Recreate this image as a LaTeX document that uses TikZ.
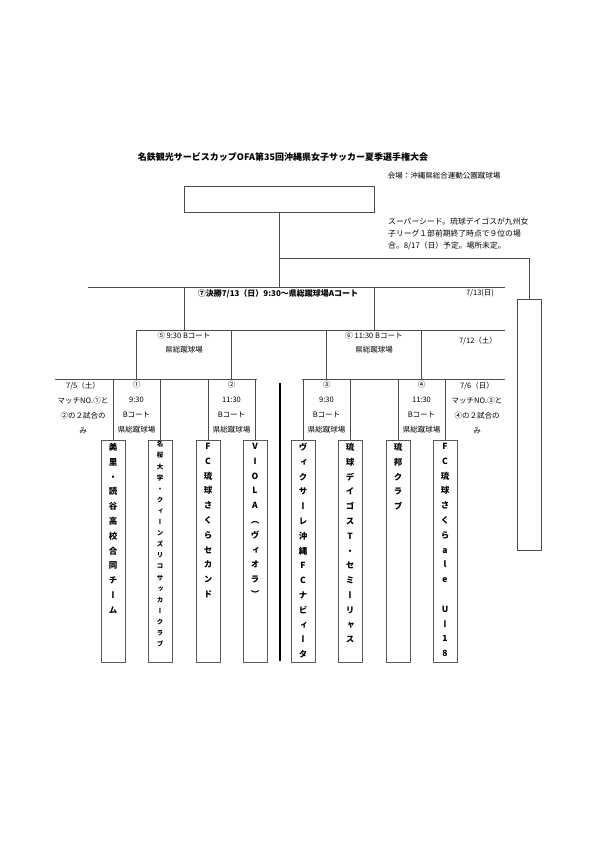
\documentclass[tikz,border=0pt]{standalone}
\usepackage{fontspec}
\usepackage{tikz}
\usetikzlibrary{positioning}
\newfontfamily\jpfont{Noto Sans CJK JP}
\newfontfamily\jpvfont[RawFeature=+vert]{Noto Sans CJK JP}
% one character per line, for the vertical team names
\def\tate#1{\tatefirst#1\relax}
\def\tatefirst#1{#1\tatenext}
\def\tatenext#1{\ifx\relax#1\else\\#1\expandafter\tatenext\fi}
\tikzset{
  brline/.style={draw=black!70,line width=0.8pt},
  divline/.style={draw=black,line width=1.5pt},
  champbox/.style={draw=black!70,line width=0.8pt,minimum width=190pt,minimum height=26pt,inner sep=0pt},
  seedbox/.style={draw=black!70,line width=0.8pt,minimum width=24pt,minimum height=251pt,inner sep=0pt},
  teambox/.style={draw=black!65,line width=0.8pt,minimum width=24pt,minimum height=222pt,inner sep=0pt,anchor=north},
  tatename/.style={font=\jpvfont\bfseries\fontsize{8.5}{14.8}\selectfont,align=center,inner sep=0pt,text width=14pt},
  tatesmall/.style={tatename,font=\jpvfont\bfseries\fontsize{6.5}{11.1}\selectfont},
  titletext/.style={font=\jpfont\bfseries\fontsize{9}{11}\selectfont,inner sep=0pt},
  headtext/.style={font=\jpfont\bfseries\fontsize{8}{10}\selectfont,inner sep=0pt},
  smalltext/.style={font=\jpfont\fontsize{7.5}{15}\selectfont,inner sep=0pt,align=center},
  semitext/.style={smalltext,font=\jpfont\fontsize{7.5}{14}\selectfont},
  notetext/.style={font=\jpfont\fontsize{7.8}{12}\selectfont,inner sep=0pt,align=left},
}
\begin{document}
\begin{tikzpicture}[x=1pt,y=-1pt]
  \useasboundingbox[fill=white] (0,0) rectangle (595,841);
  % title and venue
  \node[titletext] (title) at (283,157) {名鉄観光サービスカップOFA第35回沖縄県女子サッカー夏季選手権大会};
  \node[smalltext] (venue) at (444,176) {会場：沖縄県総合運動公園蹴球場};
  % champion and super seed
  \node[champbox] (champ) at (279,199.5) {};
  \node[notetext,anchor=north west] (seednote) at (388,218) {スーパーシード。琉球デイゴスが九州女\\子リーグ１部前期終了時点で９位の場\\合。8/17（日）予定。場所未定。};
  \node[seedbox] (seed) at (529,424.5) {};
  % teams
  \node[teambox] (t1) at (113,440) {};
  \node[teambox] (t2) at (160,440) {};
  \node[teambox] (t3) at (208,440) {};
  \node[teambox] (t4) at (255,440) {};
  \node[teambox] (t5) at (303,440) {};
  \node[teambox] (t6) at (350,440) {};
  \node[teambox] (t7) at (398,440) {};
  \node[teambox] (t8) at (445,440) {};
  \node[tatename,below=3pt of t1.north] (n1) {\tate{美里・読谷高校合同チーム}};
  \node[tatesmall,below=1pt of t2.north] (n2) {\tate{名桜大学・クィーンズリコサッカークラブ}};
  \node[tatename,below=3pt of t3.north] (n3) {\tate{FC琉球さくらセカンド}};
  \node[tatename,below=3pt of t4.north] (n4) {\tate{VIOLA（ヴィオラ）}};
  \node[tatename,below=3pt of t5.north] (n5) {\tate{ヴィクサーレ沖縄FCナビィータ}};
  \node[tatename,below=3pt of t6.north] (n6) {\tate{琉球デイゴスT・セミーリャス}};
  \node[tatename,below=3pt of t7.north] (n7) {\tate{琉邦クラブ}};
  \node[tatename,below=3pt of t8.north] (n8) {\tate{FC琉球さくらale~Uー18}};
  % bracket points
  \coordinate (fin) at (279,287);
  \coordinate (fL) at (88,287);
  \coordinate (fR) at (505,287);
  \coordinate (s5) at (184,330);
  \coordinate (s6) at (374,330);
  \coordinate (sR) at (505,330);
  \coordinate (m1) at (136.5,379);
  \coordinate (m2) at (231.5,379);
  \coordinate (m3) at (326.5,379);
  \coordinate (m4) at (421.5,379);
  \coordinate (rL) at (55,379);
  \coordinate (rM) at (257,379);
  \coordinate (rN) at (302,379);
  \coordinate (rR) at (505,379);
  \coordinate (sd) at (279,258);
  \coordinate (dvT) at (280,383);
  \coordinate (dvB) at (280,661);
  % bracket lines
  \draw[brline] (champ.south) -- (fin);
  \draw[brline] (sd) -| (seed.north);
  \draw[brline] (fL) -- (fR);
  \draw[brline] (s5 |- fin) -- (s5);
  \draw[brline] (s6 |- fin) -- (s6);
  \draw[brline] (m1 |- s5) -- (sR);
  \draw[brline] (m1 |- s5) -- (m1);
  \draw[brline] (m2 |- s5) -- (m2);
  \draw[brline] (m3 |- s5) -- (m3);
  \draw[brline] (m4 |- s5) -- (m4);
  \draw[brline] (rL) -- (rM);
  \draw[brline] (rN) -- (rR);
  \draw[brline] (t1.north |- m1) -- (t1.north);
  \draw[brline] (t2.north |- m1) -- (t2.north);
  \draw[brline] (t3.north |- m1) -- (t3.north);
  \draw[brline] (t4.north |- m1) -- (t4.north);
  \draw[brline] (t5.north |- m1) -- (t5.north);
  \draw[brline] (t6.north |- m1) -- (t6.north);
  \draw[brline] (t7.north |- m1) -- (t7.north);
  \draw[brline] (t8.north |- m1) -- (t8.north);
  \draw[divline] (dvT) -- (dvB);
  % match labels
  \node[headtext] (finlab) at (278,294) {⑦決勝7/13（日）9:30～県総蹴球場Aコート};
  \node[smalltext] (findate) at (480,293) {7/13(日)};
  \node[semitext,anchor=north] (lab5) at (184,332) {⑤ 9:30 Bコート\\県総蹴球場};
  \node[semitext,anchor=north] (lab6) at (374,332) {⑥ 11:30 Bコート\\県総蹴球場};
  \node[smalltext] (semidate) at (478,341) {7/12（土）};
  \node[smalltext,anchor=north,yshift=-2pt] (lab1) at (m1) {①\\9:30\\Bコート\\県総蹴球場};
  \node[smalltext,anchor=north,yshift=-2pt] (lab2) at (m2) {②\\11:30\\Bコート\\県総蹴球場};
  \node[smalltext,anchor=north,yshift=-2pt] (lab3) at (m3) {③\\9:30\\Bコート\\県総蹴球場};
  \node[smalltext,anchor=north,yshift=-2pt] (lab4) at (m4) {④\\11:30\\Bコート\\県総蹴球場};
  \node[smalltext,anchor=north] (dayL) at (83,382) {7/5（土）\\マッチNO.①と\\②の２試合の\\み};
  \node[smalltext,anchor=north] (dayR) at (477,382) {7/6（日）\\マッチNO.③と\\④の２試合の\\み};
\end{tikzpicture}
\end{document}
